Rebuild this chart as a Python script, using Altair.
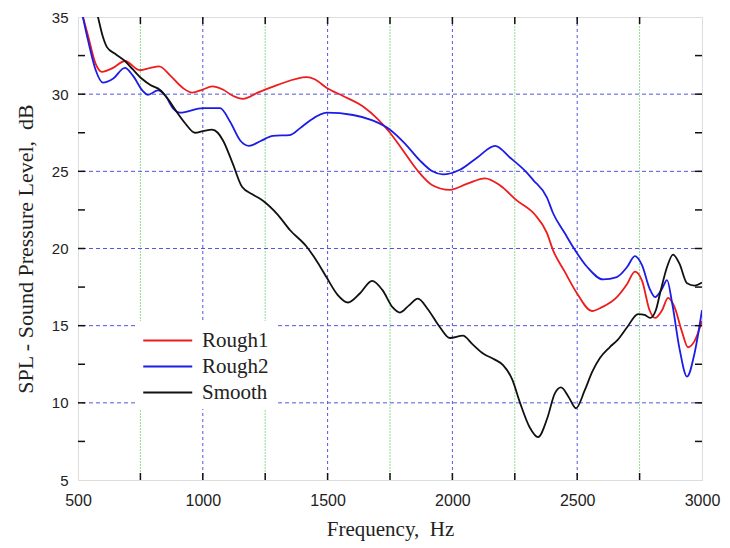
import altair as alt
import pandas as pd

# ---- data ----
r1_f = [500, 540, 570, 596, 640, 688, 748, 790, 825, 870, 920, 957, 1000, 1037, 1080, 1120, 1161, 1220, 1300, 1417, 1450, 1497, 1560, 1642, 1700, 1750, 1800, 1858, 1920, 1990, 2060, 2131, 2190, 2259, 2330, 2379, 2403, 2450, 2499, 2559, 2600, 2659, 2700, 2731, 2760, 2790, 2812, 2840, 2864, 2890, 2920, 2944, 2970, 3000]
r1_db = [36.2, 33.8, 32.0, 31.45, 31.7, 32.15, 31.55, 31.7, 31.8, 31.2, 30.4, 30.1, 30.3, 30.5, 30.3, 29.9, 29.7, 30.1, 30.6, 31.1, 30.95, 30.4, 29.9, 29.2, 28.4, 27.5, 26.4, 25.1, 24.1, 23.8, 24.2, 24.55, 24.1, 23.1, 22.2, 21.0, 19.9, 18.5, 17.1, 15.95, 16.2, 16.85, 17.7, 18.5, 17.9, 16.0, 15.5, 16.0, 16.8, 16.2, 14.6, 13.6, 14.0, 15.3]

r2_f = [500, 540, 570, 600, 640, 688, 720, 760, 780, 820, 850, 880, 909, 1001, 1069, 1110, 1150, 1185, 1230, 1281, 1349, 1390, 1430, 1497, 1602, 1680, 1750, 1810, 1870, 1920, 1962, 2030, 2100, 2171, 2230, 2299, 2323, 2379, 2403, 2450, 2491, 2540, 2603, 2659, 2700, 2731, 2760, 2790, 2812, 2840, 2860, 2880, 2910, 2940, 2970, 3000]
r2_db = [36.5, 33.5, 31.6, 30.75, 31.0, 31.7, 31.2, 30.2, 29.95, 30.25, 29.9, 29.1, 28.8, 29.1, 29.1, 28.2, 27.0, 26.65, 26.95, 27.3, 27.35, 27.8, 28.3, 28.8, 28.65, 28.3, 27.7, 26.8, 25.7, 25.0, 24.8, 25.1, 25.9, 26.65, 25.9, 24.9, 24.45, 23.3, 22.3, 21.0, 19.9, 18.8, 18.0, 18.15, 18.8, 19.5, 18.9, 17.4, 16.85, 17.4, 17.95, 16.5, 13.5, 11.7, 13.2, 16.0]

sm_f = [540, 560, 580, 600, 616, 650, 688, 720, 756, 790, 829, 860, 889, 930, 969, 1000, 1037, 1060, 1081, 1120, 1157, 1200, 1241, 1300, 1349, 1417, 1460, 1497, 1540, 1582, 1630, 1678, 1720, 1760, 1790, 1825, 1862, 1900, 1950, 1990, 2042, 2080, 2123, 2170, 2203, 2240, 2271, 2310, 2343, 2380, 2410, 2435, 2465, 2495, 2530, 2560, 2591, 2630, 2663, 2700, 2744, 2770, 2792, 2815, 2832, 2860, 2884, 2910, 2940, 2970, 3000]
sm_db = [38.0, 36.3, 35.0, 33.7, 33.05, 32.6, 32.15, 31.6, 31.0, 30.6, 30.27, 29.7, 29.0, 28.1, 27.5, 27.6, 27.7, 27.5, 27.0, 25.5, 24.0, 23.5, 23.1, 22.2, 21.2, 20.1, 19.1, 18.1, 17.0, 16.5, 17.1, 17.9, 17.3, 16.2, 15.85, 16.3, 16.75, 16.1, 14.9, 14.2, 14.35, 13.8, 13.2, 12.8, 12.45, 11.5, 10.0, 8.4, 7.78, 9.0, 10.6, 11.0, 10.4, 9.65, 10.8, 12.0, 12.9, 13.6, 14.1, 14.9, 15.75, 15.7, 15.5, 16.0, 17.1, 18.8, 19.6, 19.0, 17.75, 17.6, 17.8]

series_names = ["Rough1", "Rough2", "Smooth"]
series_colors = ["#ee1c1c", "#1c1ce6", "#111111"]

grid_blue_x = [1000, 1500, 2000, 2500]
grid_green_x = [750, 1250, 1750, 2250, 2750]
grid_y = [10, 15, 20, 25, 30]
x_ticks = [750, 1000, 1250, 1500, 1750, 2000, 2250, 2500, 2750]
y_ticks = [7.5, 10, 12.5, 15, 17.5, 20, 22.5, 25, 27.5, 30, 32.5]
x_labels = [500, 1000, 1500, 2000, 2500, 3000]
y_labels = [5, 10, 15, 20, 25, 30, 35]

W, H = 624, 463

rows = []
for name, fs, ds in [("Rough1", r1_f, r1_db), ("Rough2", r2_f, r2_db), ("Smooth", sm_f, sm_db)]:
    for i, (f, d) in enumerate(zip(fs, ds)):
        rows.append({"series": name, "f": f, "db": d, "order": i})
df = pd.DataFrame(rows)

xscale = alt.Scale(domain=[500, 3000], nice=False, zero=False)
yscale = alt.Scale(domain=[5, 35], nice=False, zero=False)

lab_font = "Liberation Sans"
ser_font = "Liberation Serif"

xaxis = alt.Axis(values=x_labels, format="d", grid=False, ticks=False, domain=False,
                 labelFlush=False,
                 labelFont=lab_font, labelFontSize=16, labelColor="#222", labelPadding=12,
                 title="Frequency,\u00a0\u00a0Hz", titleFont=ser_font, titleFontSize=21,
                 titleFontWeight="normal", titleColor="#222", titlePadding=10)
yaxis = alt.Axis(values=y_labels, format="d", grid=False, ticks=False, domain=False,
                 labelFlush=False,
                 labelFont=lab_font, labelFontSize=15, labelColor="#222", labelPadding=10,
                 title="SPL - Sound Pressure Level,\u00a0\u00a0dB", titleFont=ser_font, titleFontSize=22,
                 titleFontWeight="normal", titleColor="#222", titlePadding=14)

base_x = alt.X("f:Q", scale=xscale, axis=xaxis)
base_y = alt.Y("db:Q", scale=yscale, axis=yaxis)

gb = alt.Chart(pd.DataFrame({"f": grid_blue_x})).mark_rule(
    color="#5555e0", strokeWidth=1, strokeDash=[3, 3]).encode(x=alt.X("f:Q", scale=xscale))
gg = alt.Chart(pd.DataFrame({"f": grid_green_x})).mark_rule(
    color="#8fdc8f", strokeWidth=1, strokeDash=[2, 1]).encode(x=alt.X("f:Q", scale=xscale))
gy = alt.Chart(pd.DataFrame({"db": grid_y})).mark_rule(
    color="#5555e0", strokeWidth=1, strokeDash=[4, 3]).encode(y=alt.Y("db:Q", scale=yscale))

tk = 7
tdf_x = pd.DataFrame({"f": x_ticks})
tdf_y = pd.DataFrame({"db": y_ticks})
tick_b = alt.Chart(tdf_x).mark_rule(color="#111", strokeWidth=1.5).encode(
    x=alt.X("f:Q", scale=xscale), y=alt.value(H), y2=alt.value(H - tk))
tick_t = alt.Chart(tdf_x).mark_rule(color="#111", strokeWidth=1.5).encode(
    x=alt.X("f:Q", scale=xscale), y=alt.value(0), y2=alt.value(tk))
tick_l = alt.Chart(tdf_y).mark_rule(color="#111", strokeWidth=1.5).encode(
    y=alt.Y("db:Q", scale=yscale), x=alt.value(0), x2=alt.value(tk))
tick_r = alt.Chart(tdf_y).mark_rule(color="#111", strokeWidth=1.5).encode(
    y=alt.Y("db:Q", scale=yscale), x=alt.value(W), x2=alt.value(W - tk))

lines = alt.Chart(df).mark_line(strokeWidth=1.8, interpolate="monotone", clip=True).encode(
    x=base_x, y=base_y,
    color=alt.Color("series:N", scale=alt.Scale(domain=series_names, range=series_colors),
                    legend=alt.Legend(title=None, orient="none", legendX=58, legendY=304,
                                      fillColor="white", padding=6, symbolType="M-1,0H3",
                                      symbolSize=600, symbolStrokeWidth=2,
                                      labelFont=ser_font, labelFontSize=21, labelColor="#222",
                                      labelOffset=33, rowPadding=2)),
    order="order:Q",
)

chart = alt.layer(gb, gg, gy, lines, tick_b, tick_t, tick_l, tick_r).properties(
    width=W, height=H,
    autosize=alt.AutoSizeParams(type="none"),
    padding={"left": 70, "top": 9, "right": 20, "bottom": 63},
).configure_view(stroke="#111", strokeWidth=2).configure(background="white")

chart.save("out.html", embed_options={"renderer": "svg", "actions": False})
